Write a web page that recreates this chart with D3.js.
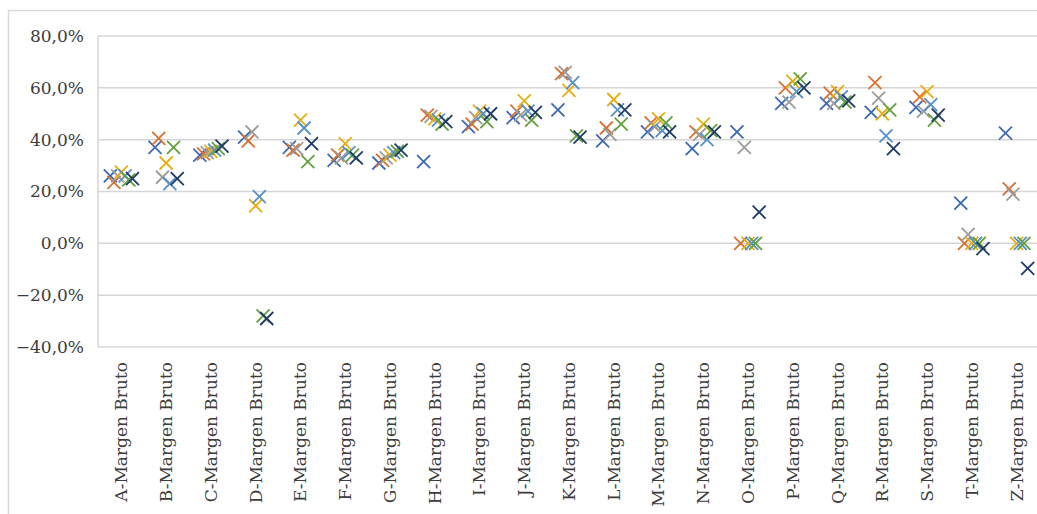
<!DOCTYPE html>
<html>
<head>
<meta charset="utf-8">
<script src="https://cdn.jsdelivr.net/npm/d3@7"></script>
<style>
  body { margin: 0; background: #fff; }
  svg { display: block; }
</style>
</head>
<body>
<div id="chart"></div>
<script>
// Categories (x axis)
const categories = ["A", "B", "C", "D", "E", "F", "G", "H", "I", "J", "K",
  "L", "M", "N", "O", "P", "Q", "R", "S", "T", "Z"].map(c => c + "-Margen Bruto");

// Y ticks
const yTicks = [-40, -20, 0, 20, 40, 60, 80];

// Series values (%), one per category
const serie1 = [26, 37, 34, 41, 37, 32, 31, 31.5, 45, 48.5, 51.5, 39.5, 43, 36.5, 43, 54, 54, 50.5, 52.5, 15.5, 42.5];
const serie2 = [23.5, 40.5, 34.5, 39.5, 36, 34, 32, 49.5, 46, 51, 65.5, 44.5, 46.5, 43, 0, 60, 58, 62, 56.5, 0, 21];
const serie3 = [26, 25.5, 35, 43, 36.5, 33, 33, 49, 48.5, 49.5, 66, 42, 45, 42, 37, 54.5, 54, 56, 51, 3.5, 19];
const serie4 = [27.5, 31, 35.5, 14.5, 47.5, 38.5, 34, 48, 51, 55, 59, 55.5, 48, 46, 0, 62.5, 58.5, 50, 58.5, 0, 0];
const serie5 = [26, 23, 36, 18, 44.5, 35, 35, 47.5, 50, 51, 62, 51.5, 43.5, 40, 0, 58.5, 56.5, 41.5, 53.5, 0, 0];
const serie6 = [24.5, 37, 36.5, -28, 31.5, 34, 35.5, 46, 47, 47.5, 41.5, 46, 46.5, 43.5, 0, 63.5, 54.5, 51.5, 47.5, 0, 0];
const serie7 = [25, 25, 37.5, -29, 38.5, 33, 36, 47, 50, 50.5, 41, 51.5, 43, 43, 12, 60, 55, 36.5, 49.5, -2, -9.7];

const seriesList = [serie1, serie2, serie3, serie4, serie5, serie6, serie7];
const colors = ["#3E68B6", "#D9702E", "#9C9C9C", "#E6AE10", "#5590C8", "#62A03E", "#1F3A66"];

const W = 1037, H = 514;
const plot = { left: 99, right: 1039, top: 36, bottom: 347 };

const svg = d3.select("#chart").append("svg")
  .attr("width", W)
  .attr("height", H);

// Outer chart border
svg.append("rect")
  .attr("x", 8.5).attr("y", 10.5)
  .attr("width", 1040).attr("height", 520)
  .attr("fill", "none")
  .attr("stroke", "#d9d9d9")
  .attr("stroke-width", 1.5);

const x = d3.scaleBand()
  .domain(categories)
  .range([plot.left, plot.right]);

const y = d3.scaleLinear()
  .domain([-40, 80])
  .range([plot.bottom, plot.top]);

const fmt = v => d3.format(".1f")(v).replace(".", ",") + "%";

// Gridlines
svg.append("g")
  .selectAll("line")
  .data(yTicks)
  .join("line")
  .attr("x1", plot.left - 1)
  .attr("x2", plot.right)
  .attr("y1", d => y(d))
  .attr("y2", d => y(d))
  .attr("stroke", "#d6d6d6")
  .attr("stroke-width", 1.5);

// Left axis line
svg.append("line")
  .attr("x1", plot.left - 1).attr("x2", plot.left - 1)
  .attr("y1", plot.top).attr("y2", plot.bottom)
  .attr("stroke", "#d6d6d6")
  .attr("stroke-width", 1.5);

// Y axis labels
const yAxis = d3.axisLeft(y)
  .tickValues(yTicks)
  .tickFormat(fmt)
  .tickSize(0)
  .tickPadding(14);

const yG = svg.append("g")
  .attr("transform", `translate(${plot.left - 1},0)`)
  .call(yAxis);
yG.select(".domain").remove();
yG.selectAll("text")
  .style("font-family", "'DejaVu Serif', serif")
  .style("font-size", "17px")
  .attr("fill", "#3c3c3c");

// X axis labels (rotated)
const xAxis = d3.axisBottom(x).tickSize(0).tickPadding(0);
const xG = svg.append("g")
  .attr("transform", `translate(0,${plot.bottom})`)
  .call(xAxis);
xG.select(".domain").remove();
xG.selectAll("text")
  .style("font-family", "'DejaVu Serif', serif")
  .style("font-size", "17px")
  .attr("fill", "#3c3c3c")
  .attr("transform", "rotate(-90)")
  .attr("x", -15)
  .attr("y", 0)
  .attr("dy", "0.35em")
  .style("text-anchor", "end");

// Markers (X shapes), each series shifted slightly within its category
const half = 6.5;
const step = 3.7;

seriesList.forEach((vals, i) => {
  const pts = vals.map((v, j) => ({
    cx: x(categories[j]) + x.bandwidth() / 2 + (i - 3) * step,
    cy: y(v)
  }));
  svg.append("g")
    .selectAll("path")
    .data(pts)
    .join("path")
    .attr("d", d => `M${d.cx - half},${d.cy - half}L${d.cx + half},${d.cy + half}` +
                    `M${d.cx - half},${d.cy + half}L${d.cx + half},${d.cy - half}`)
    .attr("stroke", colors[i])
    .attr("stroke-width", 1.8)
    .attr("fill", "none");
});
</script>
</body>
</html>
